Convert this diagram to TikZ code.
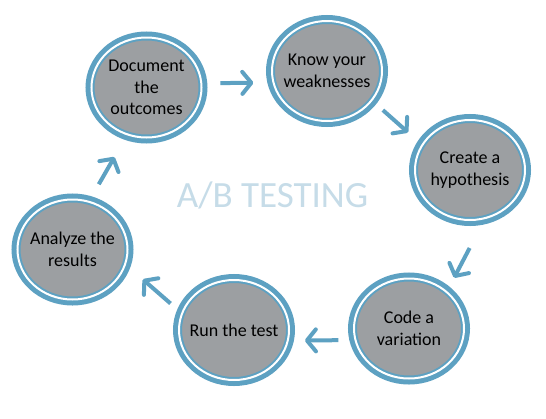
\documentclass[tikz,border=0pt]{standalone}
\usepackage{fontspec}
\setmainfont{Carlito}
\usetikzlibrary{shapes.geometric,arrows.meta}
\definecolor{ringclr}{RGB}{93,161,194}
\definecolor{stageclr}{RGB}{156,159,162}
\definecolor{titleclr}{RGB}{198,220,232}
\tikzset{ %
  ,>={Straight Barb[length=9pt,width=22pt,round]}
  ,stage/.style={ellipse, minimum width=110pt, minimum height=100pt, inner sep=-15pt, outer sep=6pt,
     fill=stageclr, draw=ringclr, line width=2pt, double=white, double distance=2pt,
     preaction={draw=ringclr, line width=12pt}, align=center, font=\fontsize{18}{21.7}\selectfont}
  ,flow/.style={draw=ringclr, line width=4pt, ->, shorten <=12pt, shorten >=12pt}
  ,title/.style={font=\fontsize{37}{40}\selectfont, text=titleclr, anchor=base}
}

\begin{document}
\begin{tikzpicture}[x=1pt, y=-1pt]
  \fill[white] (0,0) rectangle (546,418);
  \useasboundingbox (0,0) rectangle (546,418);
  % the six stages
  \node[stage] (doc)  at (146.5,87.5) {Document\\the\\outcomes};
  \node[stage] (know) at (327,71)     {Know your\\weaknesses};
  \node[stage] (hyp)  at (470,170)    {Create a\\hypothesis};
  \node[stage] (code) at (409,328.5)  {Code a\\variation};
  \node[stage] (run)  at (234,330)    {Run the test};
  \node[stage] (ana)  at (72.5,249.5) {Analyze the\\results};
  \node[title] (ab) at (272.5,207) {A/B TESTING};
  % arrows round the cycle
  \draw[flow, shorten <=13pt, shorten >=14pt] (doc.4) -- (know.191);
  \draw[flow, shorten <=9pt, shorten >=13pt] (know.-34) -- (hyp.151);
  \draw[flow, shorten <=26pt, shorten >=10pt] (hyp.-78) -- (code.46);
  \draw[flow, shorten <=11pt, shorten >=11pt] (code.191) -- (run.-10);
  \draw[flow, shorten <=9pt, shorten >=17pt] (run.160) -- (ana.-18);
  \draw[flow, shorten <=14pt, shorten >=20pt] (ana.70) -- (doc.247);
\end{tikzpicture}
\end{document}
